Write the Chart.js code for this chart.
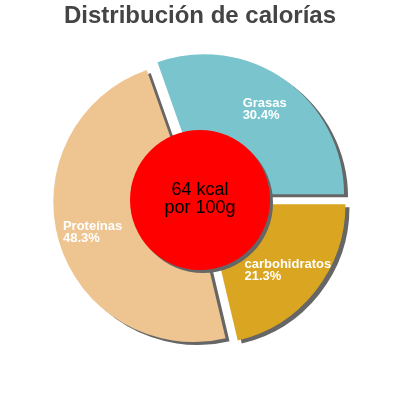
<!DOCTYPE html>
<html>
<head>
<meta charset="utf-8">
<script src="https://cdn.jsdelivr.net/npm/chart.js@4"></script>
<style>
  html, body { margin: 0; padding: 0; background: #fff; }
  #wrap { width: 400px; height: 400px; }
</style>
</head>
<body>
<div id="wrap"><canvas id="myChart" width="400" height="400"></canvas></div>
<script>
let categories = ['Grasas', 'carbohidratos', 'Proteínas'];
let percentages = [30.4, 21.3, 48.3];
let centerLines = ['64 kcal', 'por 100g'];

let slice_colors = ['#7AC5CD', '#DAA520', '#EEC591'];
let explode = 7;

// pull every slice out along its bisector
let explodePlugin = {
    id: 'explode',
    afterDatasetsUpdate: function (chart) {
        chart.getDatasetMeta(0).data.forEach(function (arc) {
            let mid = (arc.startAngle + arc.endAngle) / 2;
            arc.x += Math.cos(mid) * explode;
            arc.y += Math.sin(mid) * explode;
        });
    }
};

let shadowPlugin = {
    id: 'shadow',
    beforeDatasetsDraw: function (chart) {
        let c = chart.ctx;
        c.save();
        c.shadowColor = '#666666';
        c.shadowBlur = 0;
        c.shadowOffsetX = 4;
        c.shadowOffsetY = 3;
    },
    afterDatasetsDraw: function (chart) {
        let c = chart.ctx;
        c.restore();
        let arcs = chart.getDatasetMeta(0).data;
        let r = arcs[0].outerRadius;
        let cx = chart.chartArea.left + chart.chartArea.width / 2;
        let cy = chart.chartArea.top + chart.chartArea.height / 2;

        // red disc in the middle
        c.save();
        c.shadowColor = '#666666';
        c.shadowOffsetX = 3;
        c.shadowOffsetY = 3;
        c.fillStyle = '#FF0000';
        c.beginPath();
        c.arc(cx, cy, r / 2, 0, Math.PI * 2);
        c.fill();
        c.restore();

        c.save();
        c.fillStyle = '#000';
        c.font = '18px "Liberation Sans", Arial, sans-serif';
        c.textAlign = 'center';
        c.textBaseline = 'middle';
        c.fillText(centerLines[0], cx, cy - 10);
        c.fillText(centerLines[1], cx, cy + 8.5);
        c.restore();

        // slice labels
        c.save();
        c.fillStyle = '#fff';
        c.font = 'bold 13px "Liberation Sans", Arial, sans-serif';
        c.textAlign = 'left';
        c.textBaseline = 'middle';
        arcs.forEach(function (arc, i) {
            let mid = (arc.startAngle + arc.endAngle) / 2;
            let px = arc.x + Math.cos(mid) * arc.outerRadius * 0.75;
            let py = arc.y + Math.sin(mid) * arc.outerRadius * 0.75;
            let l1 = categories[i];
            let l2 = percentages[i].toFixed(1) + '%';
            let w = Math.max(c.measureText(l1).width, c.measureText(l2).width);
            c.fillText(l1, px - w / 2, py - 5);
            c.fillText(l2, px - w / 2, py + 7);
        });
        c.restore();
    }
};

let myChart = new Chart('myChart', {
    type: 'pie',
    plugins: [explodePlugin, shadowPlugin],
    data: {
        labels: categories,
        datasets: [
            {
                data: percentages,
                backgroundColor: slice_colors,
                borderWidth: 0
            }
        ]
    },
    options: {
        responsive: false,
        animation: false,
        radius: 140,
        rotation: -(percentages[0] / 100 * 360) + 90,
        layout: {
            padding: { top: 0, bottom: 30.8, left: 0, right: 0 }
        },
        plugins: {
            legend: { display: false },
            tooltip: { enabled: false },
            title: {
                display: true,
                text: 'Distribución de calorías',
                color: '#444444',
                font: { size: 24, weight: 'bold', family: '"Liberation Sans", Arial, sans-serif' },
                padding: { top: 2, bottom: 0 }
            }
        }
    }
});
</script>
</body>
</html>
